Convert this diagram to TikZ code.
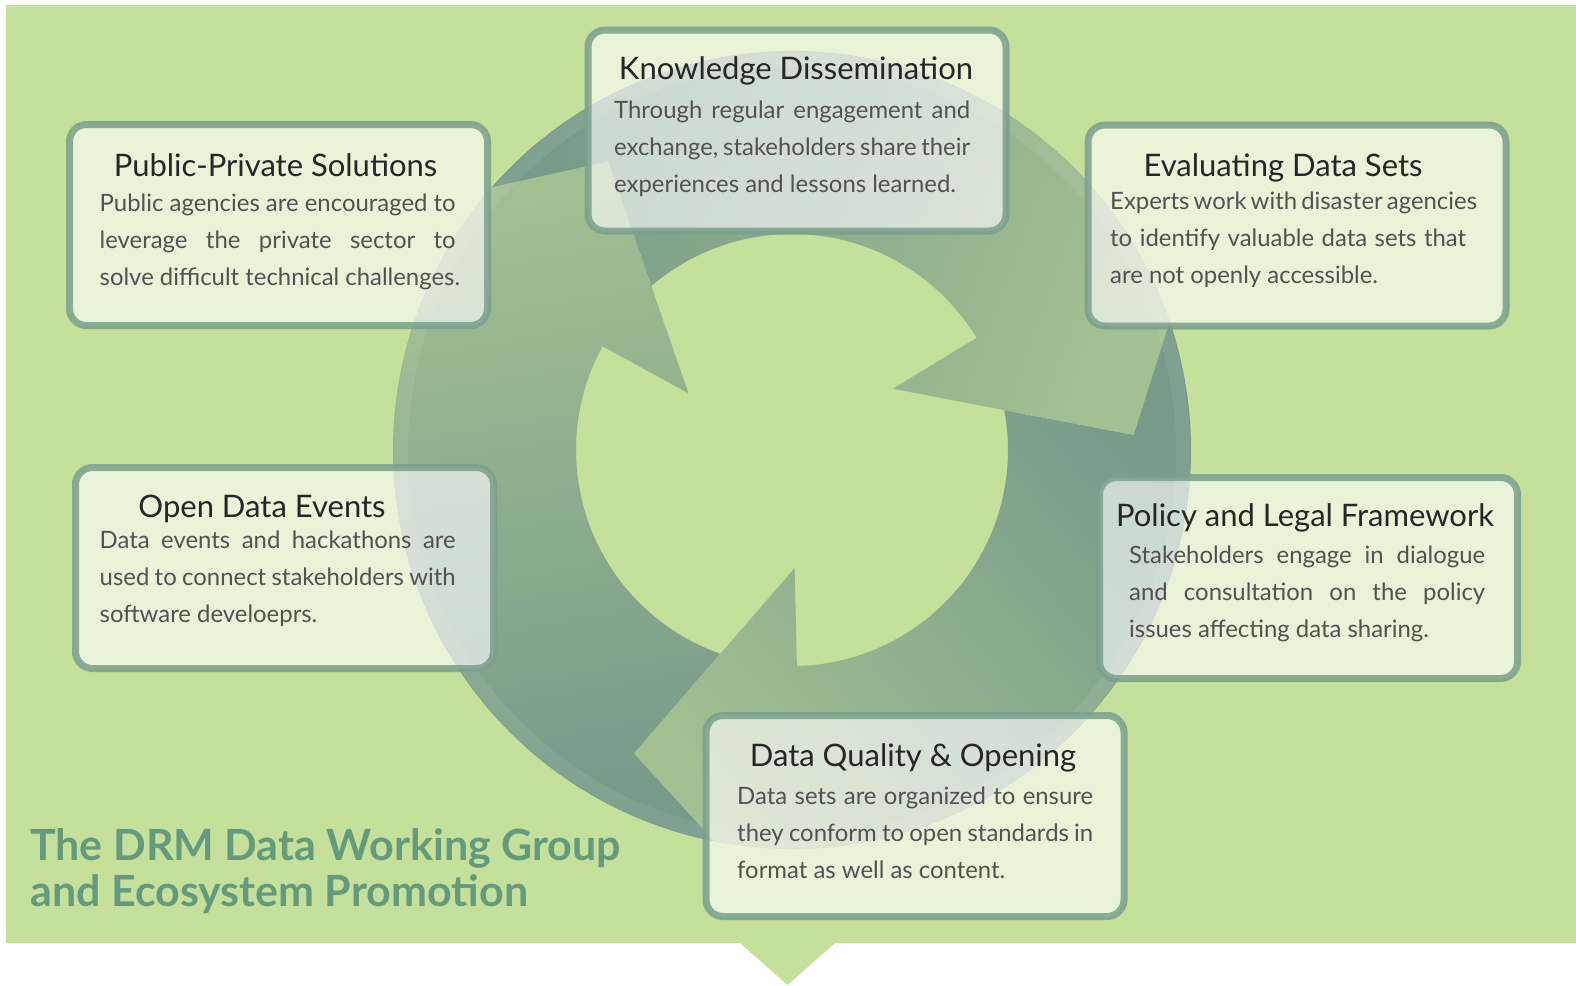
\documentclass[tikz,border=0pt]{standalone}
\usepackage{fontspec}
\setmainfont{Lato}
\definecolor{bggreen}{HTML}{C5E09B}
\definecolor{ringdark}{HTML}{779A8A}
\definecolor{ringlight}{HTML}{A3C092}
\definecolor{boxline}{HTML}{7AA08C}
\definecolor{headgreen}{HTML}{659A7D}
\pgfdeclarelayer{bg}
\pgfsetlayers{bg,main}
\tikzset{
    every node/.style={inner sep=0mm, font=\fontsize{23.9}{37}\selectfont}
}
\tikzset{box/.style={rounded corners=17pt, draw=boxline, draw opacity=.85, line width=7pt,
    fill=white, fill opacity=.62, minimum width=418pt, minimum height=201pt}}
\tikzset{boxtitle/.style={font=\fontsize{31}{36}\selectfont, text=black!85, text height=24pt, text depth=0pt}}
\tikzset{boxtext/.style={anchor=north west, align=left, text=black!68}}
\newcommand{\fillline}[1]{\makebox[356pt][s]{#1}}

\begin{document}
\begin{tikzpicture}[x=1pt, y=1pt]
        \useasboundingbox (0,0) rectangle (1576,-985);
        \begin{pgfonlayer}{bg}
                \fill[bggreen] (6,-5) -- (1576,-5) -- (1576,-943) -- (835,-943) -- (787.5,-985)
                        -- (740,-943) -- (6,-943) -- cycle;
                % three arrows round the ring
                \begin{scope}[shift={(792,-450)}]
                        \foreach \a/\s in {0/10, -120/-110, -240/-230} {
                                \shade[top color=ringlight, bottom color=ringdark, shading angle=\s]
                                        ({258.8+\a}:399pt) -- ({242.5+\a}:342pt) -- ({250.6+\a}:216pt)
                                        arc[start angle={250.6+\a}, end angle={151.3+\a}, radius=216pt]
                                        -- ({151.3+\a}:118pt) -- ({122.5+\a}:342pt) -- ({138.8+\a}:399pt)
                                        arc[start angle={138.8+\a}, end angle={258.8+\a}, radius=399pt] -- cycle;
                        }
                        \draw[white, opacity=.07, line width=14pt] (0,0) circle[radius=391pt];
                \end{scope}
        \end{pgfonlayer}
        \node (pp) [box] at (278.5,-225) {};
        \node (kd) [box] at (797,-130.5) {};
        \node (eds) [box] at (1297,-225.5) {};
        \node (ode) [box] at (284.5,-568) {};
        \node (plf) [box] at (1308.5,-578) {};
        \node (dqo) [box] at (915,-816) {};
        \node (ppt) [boxtitle] at (275.5,-164) {Public-Private Solutions};
        \node (kdt) [boxtitle] at (796,-67) {Knowledge Dissemination};
        \node (edst) [boxtitle] at (1283,-164) {Evaluating Data Sets};
        \node (odet) [boxtitle] at (262,-505) {Open Data Events};
        \node (plft) [boxtitle] at (1305,-514) {Policy and Legal Framework};
        \node (dqot) [boxtitle] at (913,-754) {Data Quality \& Opening};
        \node (ppb) [boxtext] at (99.5,-194) {\fillline{Public agencies are encouraged to}\\
                \fillline{leverage the private sector to}\\ solve difficult technical challenges.};
        \node (kdb) [boxtext] at (614,-101) {\fillline{Through regular engagement and}\\
                \fillline{exchange, stakeholders share their}\\ experiences and lessons learned.};
        \node (edsb) [boxtext] at (1110,-192) {\fillline{Experts work with disaster agencies}\\
                \fillline{to identify valuable data sets that}\\ are not openly accessible.};
        \node (odeb) [boxtext] at (99.5,-531) {\fillline{Data events and hackathons are}\\
                \fillline{used to connect stakeholders with}\\ software develoeprs.};
        \node (plfb) [boxtext] at (1129,-546) {\fillline{Stakeholders engage in dialogue}\\
                \fillline{and consultation on the policy}\\ issues affecting data sharing.};
        \node (dqob) [boxtext] at (737,-787) {\fillline{Data sets are organized to ensure}\\
                \fillline{they conform to open standards in}\\ format as well as content.};
        \node (head) [anchor=north west, align=left, text=headgreen, font=\fontsize{43}{46}\selectfont\bfseries]
                at (30,-828) {The DRM Data Working Group\\ and Ecosystem Promotion};
\end{tikzpicture}
\end{document}
